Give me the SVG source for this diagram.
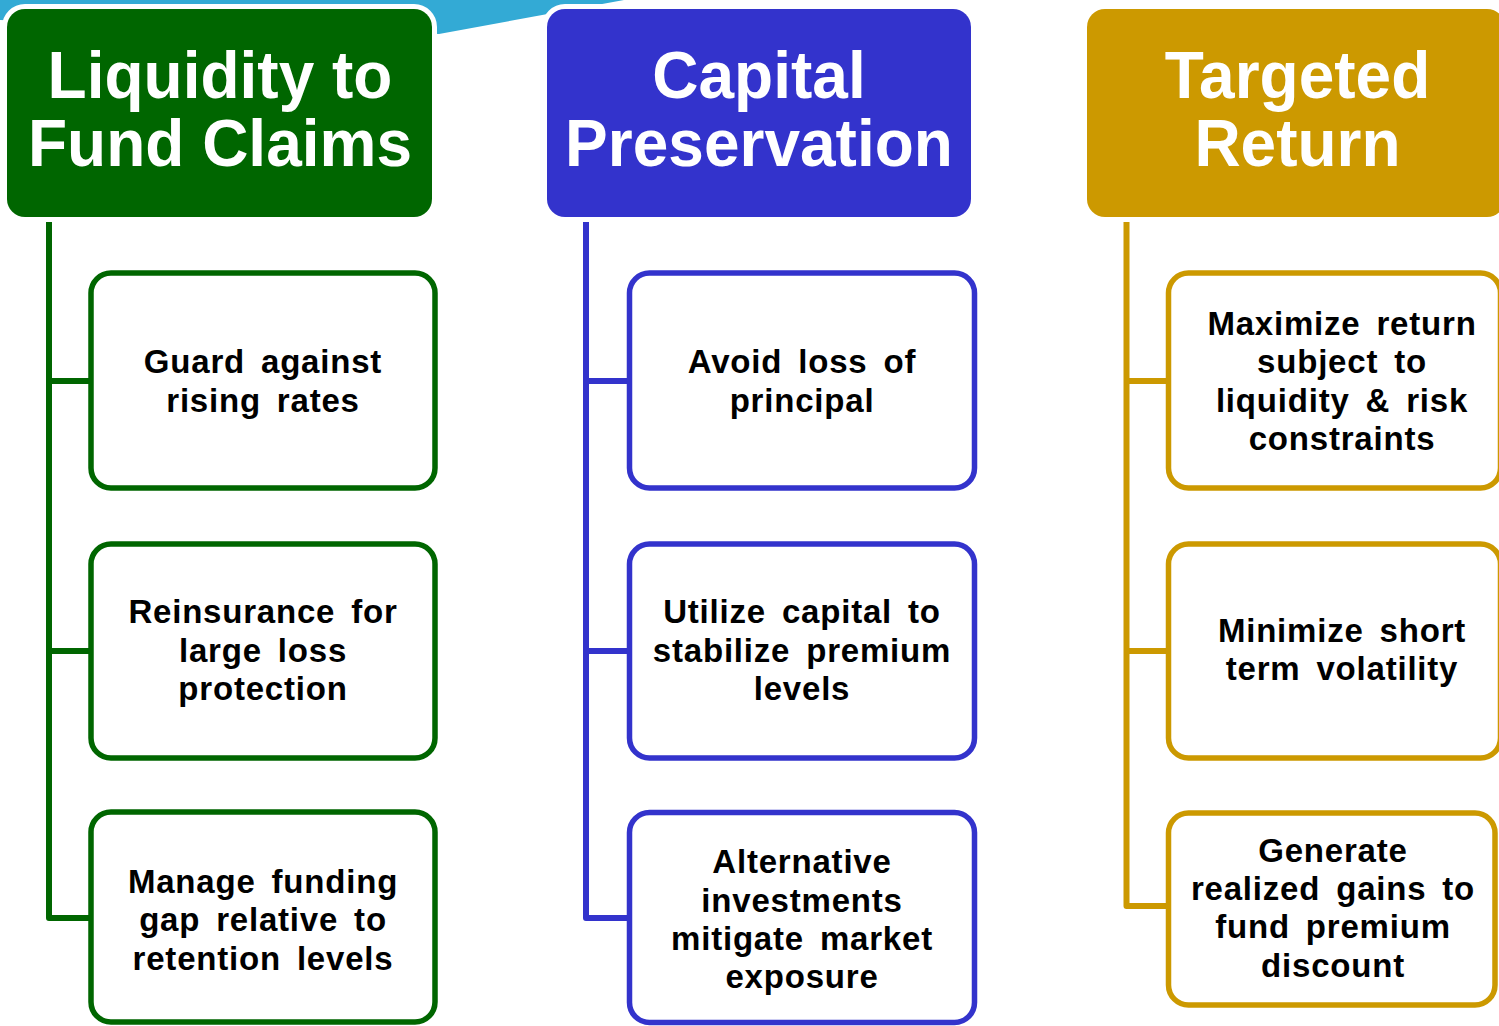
<svg xmlns="http://www.w3.org/2000/svg" width="1499" height="1026" viewBox="0 0 1499 1026">
  <style>
    .hdr { stroke: #ffffff; stroke-width: 10; paint-order: stroke; }
    .hdr-text { font-family: "Liberation Sans", Arial, sans-serif; font-weight: bold; font-size: 66px; fill: #ffffff; text-anchor: middle; }
    .box { fill: #ffffff; stroke-width: 5.5; }
    .box-text { font-family: "Liberation Sans", Arial, sans-serif; font-weight: bold; font-size: 33px; fill: #000000; text-anchor: middle; letter-spacing: 0.8px; word-spacing: 6px; }
    .conn { fill: none; stroke-width: 6; stroke-linejoin: round; }
    .green { stroke: #006600; }
    .blue { stroke: #3333CC; }
    .gold { stroke: #CC9900; }
  </style>

  <rect width="1499" height="1026" fill="#ffffff"/>

  <!-- light blue backdrop band along the top edge -->
  <polygon points="0,0 624,0 439,34 0,20" fill="#33AAD5"/>

  <!-- connectors -->
  <g id="connectors">
    <path class="conn green" d="M49,220 V918 H91 M49,381 H91 M49,651 H91"/>
    <path class="conn blue" d="M586,220 V918 H629 M586,381 H629 M586,651 H629"/>
    <path class="conn gold" d="M1126.5,220 V906 H1168 M1126.5,381 H1168 M1126.5,651 H1168"/>
  </g>

  <!-- column headers -->
  <g id="hdr-liquidity">
    <rect class="hdr" x="7" y="9" width="425" height="208" rx="18" fill="#006600"/>
    <text class="hdr-text" transform="translate(220,98) scale(0.97,1)">Liquidity to</text>
    <text class="hdr-text" transform="translate(220,166) scale(0.97,1)">Fund Claims</text>
  </g>
  <g id="hdr-capital">
    <rect class="hdr" x="547" y="9" width="424" height="208" rx="18" fill="#3333CC"/>
    <text class="hdr-text" transform="translate(759,98) scale(0.97,1)">Capital</text>
    <text class="hdr-text" transform="translate(759,166) scale(0.97,1)">Preservation</text>
  </g>
  <g id="hdr-return">
    <rect class="hdr" x="1087" y="9" width="418" height="208" rx="18" fill="#CC9900"/>
    <text class="hdr-text" transform="translate(1297.5,98) scale(0.97,1)">Targeted</text>
    <text class="hdr-text" transform="translate(1297.5,166) scale(0.97,1)">Return</text>
  </g>

  <!-- Liquidity column -->
  <g id="box-guard">
    <rect class="box green" x="91" y="273" width="344" height="215" rx="20"/>
    <text class="box-text" x="263" y="373">Guard against</text>
    <text class="box-text" x="263" y="412">rising rates</text>
  </g>
  <g id="box-reinsurance">
    <rect class="box green" x="91" y="544" width="344" height="214" rx="20"/>
    <text class="box-text" x="263" y="623">Reinsurance for</text>
    <text class="box-text" x="263" y="662">large loss</text>
    <text class="box-text" x="263" y="700">protection</text>
  </g>
  <g id="box-funding-gap">
    <rect class="box green" x="91" y="812" width="344" height="210" rx="20"/>
    <text class="box-text" x="263" y="893">Manage funding</text>
    <text class="box-text" x="263" y="931">gap relative to</text>
    <text class="box-text" x="263" y="970">retention levels</text>
  </g>

  <!-- Capital column -->
  <g id="box-principal">
    <rect class="box blue" x="629.5" y="273" width="345" height="215" rx="20"/>
    <text class="box-text" x="802" y="373">Avoid loss of</text>
    <text class="box-text" x="802" y="412">principal</text>
  </g>
  <g id="box-premium-levels">
    <rect class="box blue" x="629.5" y="544" width="345" height="214" rx="20"/>
    <text class="box-text" x="802" y="623">Utilize capital to</text>
    <text class="box-text" x="802" y="662">stabilize premium</text>
    <text class="box-text" x="802" y="700">levels</text>
  </g>
  <g id="box-alternatives">
    <rect class="box blue" x="629.5" y="812.5" width="345" height="210" rx="20"/>
    <text class="box-text" x="802" y="873">Alternative</text>
    <text class="box-text" x="802" y="912">investments</text>
    <text class="box-text" x="802" y="950">mitigate market</text>
    <text class="box-text" x="802" y="988">exposure</text>
  </g>

  <!-- Return column -->
  <g id="box-maximize">
    <rect class="box gold" x="1168.5" y="273" width="332" height="215" rx="20"/>
    <text class="box-text" x="1342" y="335">Maximize return</text>
    <text class="box-text" x="1342" y="373">subject to</text>
    <text class="box-text" x="1342" y="412">liquidity &amp; risk</text>
    <text class="box-text" x="1342" y="450">constraints</text>
  </g>
  <g id="box-volatility">
    <rect class="box gold" x="1168.5" y="544" width="332" height="214" rx="20"/>
    <text class="box-text" x="1342" y="642">Minimize short</text>
    <text class="box-text" x="1342" y="680">term volatility</text>
  </g>
  <g id="box-gains">
    <rect class="box gold" x="1168.5" y="813" width="326.5" height="192" rx="20"/>
    <text class="box-text" x="1333" y="862">Generate</text>
    <text class="box-text" x="1333" y="900">realized gains to</text>
    <text class="box-text" x="1333" y="938">fund premium</text>
    <text class="box-text" x="1333" y="977">discount</text>
  </g>
</svg>
